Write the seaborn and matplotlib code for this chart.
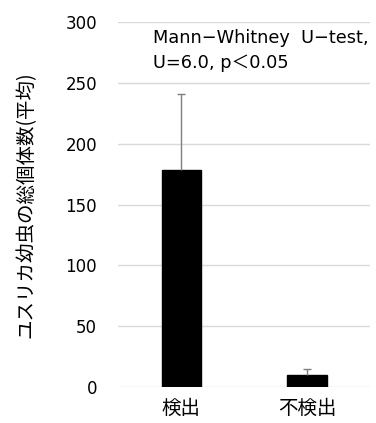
import numpy as np
import pandas as pd
import matplotlib
matplotlib.use("Agg")
import matplotlib.pyplot as plt
import seaborn as sns

# dados
grupos = ["検出", "不検出"]
medias = [178, 10]
erros = [63, 5]
yticks = [0, 50, 100, 150, 200, 250, 300]

df = pd.DataFrame({"grupo": grupos, "media": medias})

sns.set_theme(style="whitegrid")
plt.rcParams["font.family"] = ["DejaVu Sans", "Noto Sans CJK JP"]
plt.rcParams["text.color"] = "black"
jp = ["Noto Sans CJK JP", "DejaVu Sans"]

fig = plt.figure(figsize=(3.76, 4.23), dpi=100, facecolor="white")
ax = fig.add_axes([0.314, 0.085, 0.67, 0.863])
ax.set_facecolor("white")

sns.barplot(data=df, x="grupo", y="media", color="black", width=0.31,
            edgecolor="black", ax=ax)
# barra de erro só para cima
_, caps, _ = ax.errorbar(range(len(grupos)), medias,
                         yerr=[np.zeros(len(erros)), erros],
                         fmt="none", ecolor="#7f7f7f", elinewidth=1,
                         capsize=3, capthick=1)
caps[0].set_visible(False)

ax.set_xlim(-0.5, 1.5)
ax.set_ylim(0, 300)
ax.set_yticks(yticks)
ax.grid(axis="y", color="#d9d9d9", linewidth=1)
ax.grid(axis="x", visible=False)
for s in ax.spines.values():
    s.set_visible(False)
ax.tick_params(axis="y", length=0, labelsize=12, colors="black", pad=15)
ax.tick_params(axis="x", length=0, colors="black", pad=8)
for lb in ax.get_xticklabels():
    lb.set_fontfamily(jp)
    lb.set_fontsize(14)
ax.set_xlabel("")
ax.set_ylabel("ユスリカ幼虫の総個体数(平均)", fontsize=14, labelpad=21,
              family=jp, color="black")

ax.text(-0.22, 294, "Mann−Whitney  U−test,\nU=6.0, p＜0.05", fontsize=12.8,
        va="top", ha="left", linespacing=1.45, color="black")

fig.savefig("out.png", dpi=100, facecolor="white")
